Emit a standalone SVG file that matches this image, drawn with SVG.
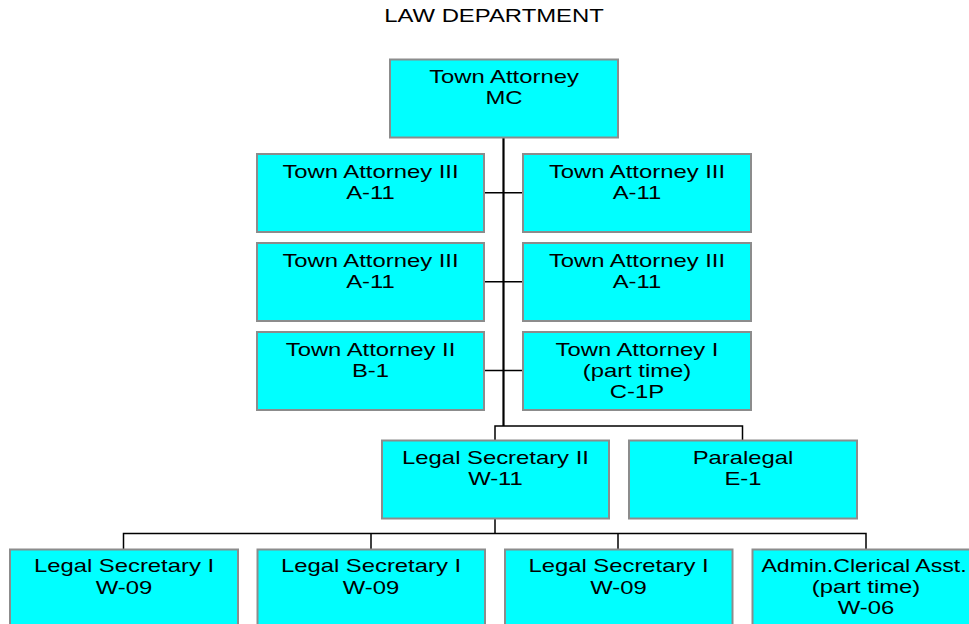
<svg xmlns="http://www.w3.org/2000/svg" width="969" height="624" viewBox="0 0 969 624">
<style>
.box{fill:#00FFFF;stroke:#8c8c8c;stroke-width:2}
.t{font-family:"Liberation Sans",Arial,sans-serif;font-size:19px;fill:#000;text-anchor:middle}
.title{font-family:"Liberation Sans",Arial,sans-serif;font-size:18.5px;fill:#000;text-anchor:middle}
.c{stroke:#000;stroke-width:1.5;fill:none}
.m{stroke:#000;stroke-width:2.2;fill:none}
</style>
<rect width="969" height="624" fill="#fff"/>
<text class="title" transform="translate(494,22.3) scale(1.29,1)">LAW DEPARTMENT</text>
<g id="connectors">
<line class="m" x1="503.5" y1="138" x2="503.5" y2="426"/>
<line class="c" x1="484" y1="192.7" x2="523" y2="192.7"/>
<line class="c" x1="484" y1="281.7" x2="523" y2="281.7"/>
<line class="c" x1="484" y1="370.5" x2="523" y2="370.5"/>
<polyline class="c" points="495,440 495,426 742.5,426 742.5,440"/>
<line class="c" x1="495" y1="519" x2="495" y2="533.5"/>
<polyline class="c" points="123.5,549 123.5,533.5 866,533.5 866,549"/>
<line class="c" x1="371" y1="533.5" x2="371" y2="549"/>
<line class="c" x1="618" y1="533.5" x2="618" y2="549"/>
</g>
<g id="n-town-attorney">
<rect class="box" x="390" y="59.5" width="228" height="78"/>
<text class="t" transform="translate(504,83.3) scale(1.255,1)">Town Attorney</text>
<text class="t" transform="translate(504,104) scale(1.255,1)">MC</text>
</g>
<g id="n-ta3-1">
<rect class="box" x="257" y="154" width="227" height="78"/>
<text class="t" transform="translate(370.5,177.7) scale(1.255,1)">Town Attorney III</text>
<text class="t" transform="translate(370.5,198.8) scale(1.255,1)">A-11</text>
</g>
<g id="n-ta3-2">
<rect class="box" x="523" y="154" width="228" height="78"/>
<text class="t" transform="translate(637,177.7) scale(1.255,1)">Town Attorney III</text>
<text class="t" transform="translate(637,198.8) scale(1.255,1)">A-11</text>
</g>
<g id="n-ta3-3">
<rect class="box" x="257" y="243" width="227" height="78"/>
<text class="t" transform="translate(370.5,266.7) scale(1.255,1)">Town Attorney III</text>
<text class="t" transform="translate(370.5,287.8) scale(1.255,1)">A-11</text>
</g>
<g id="n-ta3-4">
<rect class="box" x="523" y="243" width="228" height="78"/>
<text class="t" transform="translate(637,266.7) scale(1.255,1)">Town Attorney III</text>
<text class="t" transform="translate(637,287.8) scale(1.255,1)">A-11</text>
</g>
<g id="n-ta2">
<rect class="box" x="257" y="332" width="227" height="78"/>
<text class="t" transform="translate(370.5,355.7) scale(1.255,1)">Town Attorney II</text>
<text class="t" transform="translate(370.5,376.8) scale(1.255,1)">B-1</text>
</g>
<g id="n-ta1">
<rect class="box" x="523" y="332" width="228" height="78"/>
<text class="t" transform="translate(637,355.7) scale(1.255,1)">Town Attorney I</text>
<text class="t" transform="translate(637,377) scale(1.255,1)">(part time)</text>
<text class="t" transform="translate(637,398.3) scale(1.255,1)">C-1P</text>
</g>
<g id="n-ls2">
<rect class="box" x="382" y="440.5" width="227" height="78"/>
<text class="t" transform="translate(495.5,464) scale(1.255,1)">Legal Secretary II</text>
<text class="t" transform="translate(495.5,485) scale(1.255,1)">W-11</text>
</g>
<g id="n-paralegal">
<rect class="box" x="629" y="440.5" width="228" height="78"/>
<text class="t" transform="translate(743,464) scale(1.255,1)">Paralegal</text>
<text class="t" transform="translate(743,485) scale(1.255,1)">E-1</text>
</g>
<g id="n-ls1-1">
<rect class="box" x="10" y="549.5" width="228" height="78"/>
<text class="t" transform="translate(124,571.7) scale(1.255,1)">Legal Secretary I</text>
<text class="t" transform="translate(124,593.5) scale(1.255,1)">W-09</text>
</g>
<g id="n-ls1-2">
<rect class="box" x="257.5" y="549.5" width="227.5" height="78"/>
<text class="t" transform="translate(371,571.7) scale(1.255,1)">Legal Secretary I</text>
<text class="t" transform="translate(371,593.5) scale(1.255,1)">W-09</text>
</g>
<g id="n-ls1-3">
<rect class="box" x="505" y="549.5" width="227.5" height="78"/>
<text class="t" transform="translate(618.5,571.7) scale(1.255,1)">Legal Secretary I</text>
<text class="t" transform="translate(618.5,593.5) scale(1.255,1)">W-09</text>
</g>
<g id="n-admin">
<rect class="box" x="752.5" y="549.5" width="228" height="78"/>
<text class="t" transform="translate(864,571.7) scale(1.215,1)">Admin.Clerical Asst.</text>
<text class="t" transform="translate(866,593) scale(1.255,1)">(part time)</text>
<text class="t" transform="translate(866,614.3) scale(1.255,1)">W-06</text>
</g>
</svg>
